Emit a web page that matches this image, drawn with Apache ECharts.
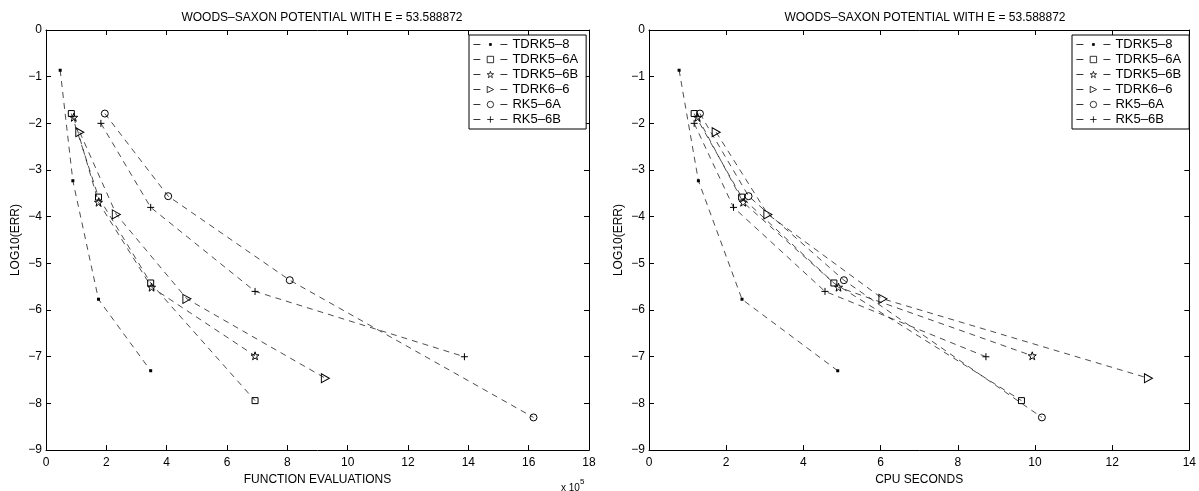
<!DOCTYPE html>
<html>
<head>
<meta charset="utf-8">
<script src="https://cdn.jsdelivr.net/npm/echarts@6/dist/echarts.min.js"></script>
<style>
html, body { margin: 0; padding: 0; background: #fff; }
#id-div-chart { width: 1199px; height: 491px; }
</style>
</head>
<body>
<div id="id-div-chart"></div>
<script>
var log = console.log.bind(console)

var e = (selector) => document.querySelector(selector)

var titleText = 'WOODS–SAXON POTENTIAL WITH E = 53.588872'
var names = ['TDRK5–8', 'TDRK5–6A', 'TDRK5–6B', 'TDRK6–6', 'RK5–6A', 'RK5–6B']

// LOG10(ERR), 两张图共用
var errTdrk58 = [-0.86, -3.23, -5.77, -7.30]
var errTdrk56a = [-1.79, -3.58, -5.42, -7.94]
var errTdrk56b = [-1.87, -3.69, -5.51, -6.98]
var errTdrk66 = [-2.19, -3.95, -5.76, -7.46]
var errRk56a = [-1.79, -3.56, -5.36, -8.30]
var errRk56b = [-2.00, -3.80, -5.60, -7.00]

// FUNCTION EVALUATIONS (x 10^5)
var evalTdrk58 = [0.47, 0.89, 1.74, 3.47]
var evalTdrk56a = [0.84, 1.74, 3.47, 6.93]
var evalTdrk56b = [0.92, 1.74, 3.50, 6.93]
var evalTdrk66 = [1.12, 2.33, 4.67, 9.26]
var evalRk56a = [1.95, 4.05, 8.08, 16.16]
var evalRk56b = [1.82, 3.47, 6.93, 13.87]

// CPU SECONDS
var cpuTdrk58 = [0.78, 1.28, 2.41, 4.89]
var cpuTdrk56a = [1.17, 2.40, 4.79, 9.65]
var cpuTdrk56b = [1.26, 2.44, 4.91, 9.93]
var cpuTdrk66 = [1.74, 3.08, 6.06, 12.94]
var cpuRk56a = [1.32, 2.58, 5.05, 10.18]
var cpuRk56b = [1.17, 2.19, 4.56, 8.73]

var font = 'Liberation Sans, Arial, Helvetica, sans-serif'
var clear = 'rgba(0,0,0,0)'

// 小点: 四角放两个极小方块撑开包围盒, 中间是真正的点
var dotPath = 'path://M0,0h0.01v0.01h-0.01Z M10,10h-0.01v-0.01h0.01Z M3.5,3.5h3v3h-3Z'
var starPath = 'path://M10,0L12.35,6.76L19.51,6.91L13.8,11.24L15.88,18.09L10,14L4.12,18.09L6.2,11.24L0.49,6.91L7.65,6.76Z'
var trianglePath = 'path://M0,0L10,5L0,10Z'
var plusPath = 'path://M5,0L5,10M0,5L10,5'

var markers = [
    {symbol: dotPath, size: 10, fill: '#000', border: 0},
    {symbol: 'rect', size: 6, fill: clear, border: 1},
    {symbol: starPath, size: 8, fill: clear, border: 1},
    {symbol: trianglePath, size: [8, 9], fill: clear, border: 1},
    {symbol: 'circle', size: 7, fill: clear, border: 1},
    {symbol: plusPath, size: 7, fill: clear, border: 1},
]

var pairs = function(xs, ys) {
    var r = []
    for (var i = 0; i < xs.length; i++) {
        r.push([xs[i], ys[i]])
    }
    return r
}

var minus = (v) => String(v).replace('-', '−')

var axesFor = function(max, name, gridIndex) {
    var base = {
        type: 'value',
        gridIndex: gridIndex,
        min: 0,
        max: max,
        interval: 2,
        splitLine: {show: false},
        axisLine: {show: true, onZero: false, lineStyle: {color: '#000', width: 1}},
        axisTick: {show: true, inside: true, length: 5, lineStyle: {color: '#000'}},
    }
    var bottom = Object.assign({}, base, {
        position: 'bottom',
        name: name,
        nameLocation: 'middle',
        nameGap: 20,
        nameTextStyle: {fontSize: 12, color: '#000', fontFamily: font},
        axisLabel: {fontSize: 12, color: '#000', fontFamily: font, margin: 7},
    })
    var top = Object.assign({}, base, {
        position: 'top',
        axisLabel: {show: false},
    })
    return [bottom, top]
}

var yAxesFor = function(gridIndex) {
    var base = {
        type: 'value',
        gridIndex: gridIndex,
        min: -9,
        max: 0,
        interval: 1,
        splitLine: {show: false},
        axisLine: {show: true, onZero: false, lineStyle: {color: '#000', width: 1}},
        axisTick: {show: true, inside: true, length: 5, lineStyle: {color: '#000'}},
    }
    var left = Object.assign({}, base, {
        position: 'left',
        name: 'LOG10(ERR)',
        nameLocation: 'middle',
        nameGap: 24,
        nameTextStyle: {fontSize: 12, color: '#000', fontFamily: font},
        axisLabel: {fontSize: 12, color: '#000', fontFamily: font, margin: 4, formatter: minus},
    })
    var right = Object.assign({}, base, {
        position: 'right',
        axisLabel: {show: false},
    })
    return [left, right]
}

var seriesFor = function(xList, axisIndex) {
    var errs = [errTdrk58, errTdrk56a, errTdrk56b, errTdrk66, errRk56a, errRk56b]
    var s = []
    for (var i = 0; i < names.length; i++) {
        var m = markers[i]
        s.push({
            name: names[i],
            type: 'line',
            xAxisIndex: axisIndex,
            yAxisIndex: axisIndex,
            data: pairs(xList[i], errs[i]),
            symbol: m.symbol,
            symbolSize: m.size,
            showAllSymbol: true,
            animation: false,
            lineStyle: {color: '#000', width: 0.7, type: [6, 5]},
            itemStyle: {color: m.fill, borderColor: '#000', borderWidth: m.border},
            emphasis: {disabled: true},
        })
    }
    return s
}

var legendFor = function(left) {
    return {
        orient: 'vertical',
        left: left,
        top: 35,
        itemWidth: 34,
        itemHeight: 8,
        itemGap: 2,
        padding: [3, 8, 3, 4],
        borderColor: '#000',
        borderWidth: 1,
        backgroundColor: '#fff',
        selectedMode: false,
        lineStyle: {color: '#000', width: 0.8, type: [7, 20]},
        itemStyle: {borderWidth: 0.8},
        textStyle: {fontSize: 13, lineHeight: 12, color: '#000', fontFamily: font},
        data: names,
    }
}

var __main = function() {
    var chart = echarts.init(e('#id-div-chart'))
    var xa = axesFor(18, 'FUNCTION EVALUATIONS', 0).concat(axesFor(14, 'CPU SECONDS', 1))
    var ya = yAxesFor(0).concat(yAxesFor(1))
    var evals = [evalTdrk58, evalTdrk56a, evalTdrk56b, evalTdrk66, evalRk56a, evalRk56b]
    var cpus = [cpuTdrk58, cpuTdrk56a, cpuTdrk56b, cpuTdrk66, cpuRk56a, cpuRk56b]
    var titleStyle = {fontSize: 12, fontWeight: 'normal', color: '#000', fontFamily: font}
    var option = {
        backgroundColor: '#fff',
        animation: false,
        title: [
            {text: titleText, left: 317, top: 7, textAlign: 'center', textStyle: titleStyle},
            {text: titleText, left: 920, top: 7, textAlign: 'center', textStyle: titleStyle},
        ],
        grid: [
            {left: 46, top: 30, width: 543, height: 427},
            {left: 649, top: 30, width: 543, height: 427},
        ],
        legend: [legendFor(469), legendFor(1072)],
        // 轴序号: 0 底 1 顶 (左图), 2 底 3 顶 (右图)
        xAxis: xa,
        yAxis: ya,
        series: seriesFor(evals, 0).concat(seriesFor(cpus, 2)),
        graphic: [
            {
                type: 'text',
                left: 561,
                top: 478,
                style: {
                    text: '{a|x 10}{b|5}',
                    rich: {
                        a: {fontSize: 10, fontFamily: font, fill: '#000', padding: [5, 0, 0, 0]},
                        b: {fontSize: 8, fontFamily: font, fill: '#000', verticalAlign: 'top'},
                    },
                },
            },
        ],
    }
    chart.setOption(option)
}

__main()
</script>
</body>
</html>
